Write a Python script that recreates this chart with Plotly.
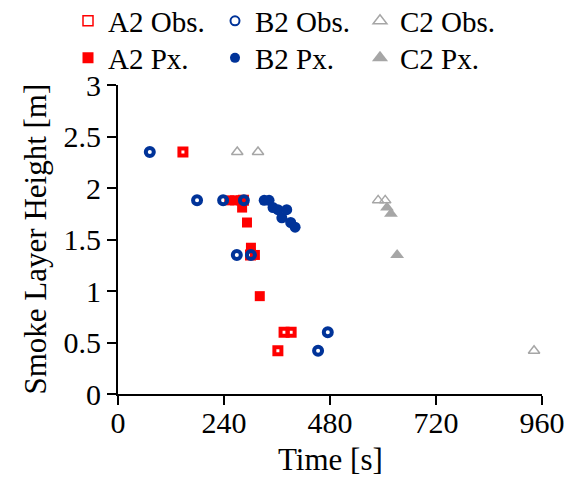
import plotly.graph_objects as go

# ---- data ----
a2_obs_t = [147, 284, 300, 362, 376, 392]
a2_obs_h = [2.35, 1.88, 1.35, 0.42, 0.60, 0.60]

a2_px_t = [252, 265, 278, 281, 292, 301, 310, 321]
a2_px_h = [1.88, 1.88, 1.88, 1.81, 1.665, 1.42, 1.35, 0.95]

b2_obs_t = [72, 179, 238, 285, 269, 301, 453, 475]
b2_obs_h = [2.35, 1.88, 1.88, 1.88, 1.35, 1.35, 0.42, 0.60]

b2_px_t = [331, 342, 351, 362, 371, 382, 391, 401]
b2_px_h = [1.88, 1.88, 1.81, 1.79, 1.71, 1.79, 1.665, 1.62]

c2_obs_t = [270, 317, 589, 605, 942]
c2_obs_h = [2.35, 2.35, 1.88, 1.88, 0.42]

c2_px_t = [609, 618, 632]
c2_px_h = [1.81, 1.75, 1.35]

x_ticks = [0, 240, 480, 720, 960]
y_ticks = [0, 0.5, 1, 1.5, 2, 2.5, 3]
y_tick_labels = ["0", "0.5", "1", "1.5", "2", "2.5", "3"]

RED = "#FF0000"
BLUE = "#003399"
GREY = "#A6A6A6"
FONT = "Liberation Serif, Times New Roman, serif"
FS_LEG = 29
FS_AX = 30
FS_TITLE = 31
W, H = 569, 478
ML, MR, MT, MB = 118, 27, 85, 84
PW, PH = W - ML - MR, H - MT - MB

# (name, color, symbol, plot size, plot line width, legend size, legend line width, legend id, data)
series = [
    ("A2 Obs.", RED, "square-open", 7, 4, 10, 1.5, "legend", a2_obs_t, a2_obs_h),
    ("A2 Px.", RED, "square", 10, 0, 11, 0, "legend2", a2_px_t, a2_px_h),
    ("B2 Obs.", BLUE, "circle-open", 8, 4, 9, 2, "legend3", b2_obs_t, b2_obs_h),
    ("B2 Px.", BLUE, "circle", 11, 0, 10, 0, "legend4", b2_px_t, b2_px_h),
    ("C2 Obs.", GREY, "triangle-up-open", 10, 1.5, 12, 1.5, "legend5", c2_obs_t, c2_obs_h),
    ("C2 Px.", GREY, "triangle-up", 12, 0, 14, 0, "legend6", c2_px_t, c2_px_h),
]

fig = go.Figure()
for name, col, sym, sz, lw, lsz, llw, lg, xs, ys in series:
    fig.add_trace(go.Scatter(x=xs, y=ys, mode="markers", name=name, showlegend=False,
                             marker=dict(symbol=sym, size=sz, color=col, line=dict(width=lw, color=col))))
    # legend-only entry (no data drawn)
    fig.add_trace(go.Scatter(x=[None], y=[None], mode="markers", name=name, legend=lg, showlegend=True,
                             marker=dict(symbol=sym, size=lsz, color=col, line=dict(width=llw, color=col))))

def leg(xpx, ypx):
    return dict(orientation="v", xref="container", yref="container",
                x=xpx / W, y=1 - ypx / H, xanchor="left", yanchor="middle",
                font=dict(family=FONT, size=FS_LEG, color="black"),
                bgcolor="rgba(0,0,0,0)", tracegroupgap=0, itemsizing="trace")

row1, row2 = 21, 58
fig.update_layout(
    width=W, height=H,
    margin=dict(l=ML, r=MR, t=MT, b=MB, autoexpand=False),
    paper_bgcolor="white", plot_bgcolor="white",
    font=dict(family=FONT, size=FS_AX, color="black"),
    showlegend=True,
    legend=leg(68, row1), legend2=leg(68, row2),
    legend3=leg(215, row1), legend4=leg(215, row2),
    legend5=leg(360, row1), legend6=leg(360, row2),
    xaxis=dict(range=[0, 960], tickvals=x_ticks, ticktext=[str(v) for v in x_ticks],
               tickfont=dict(family=FONT, size=FS_AX, color="black"), ticklabelstandoff=-8,
               showgrid=False, zeroline=False, showline=True, linecolor="black", linewidth=2,
               ticks="outside", ticklen=9, tickwidth=2, tickcolor="black"),
    yaxis=dict(range=[0, 3], tickvals=y_ticks, ticktext=y_tick_labels,
               tickfont=dict(family=FONT, size=FS_AX, color="black"),
               showgrid=False, zeroline=False, showline=True, linecolor="black", linewidth=2,
               ticks="outside", ticklen=9, tickwidth=2, tickcolor="black"),
    annotations=[
        dict(text="Smoke Layer Height [m]", textangle=-90, showarrow=False,
             xref="paper", yref="paper", x=(35 - ML) / PW, y=0.5,
             xanchor="center", yanchor="middle",
             font=dict(family=FONT, size=FS_TITLE, color="black")),
        dict(text="Time [s]", showarrow=False,
             xref="paper", yref="paper", x=0.5, y=-(460 - (H - MB)) / PH,
             xanchor="center", yanchor="middle",
             font=dict(family=FONT, size=FS_TITLE, color="black")),
    ],
)

fig.write_html("out.html")
